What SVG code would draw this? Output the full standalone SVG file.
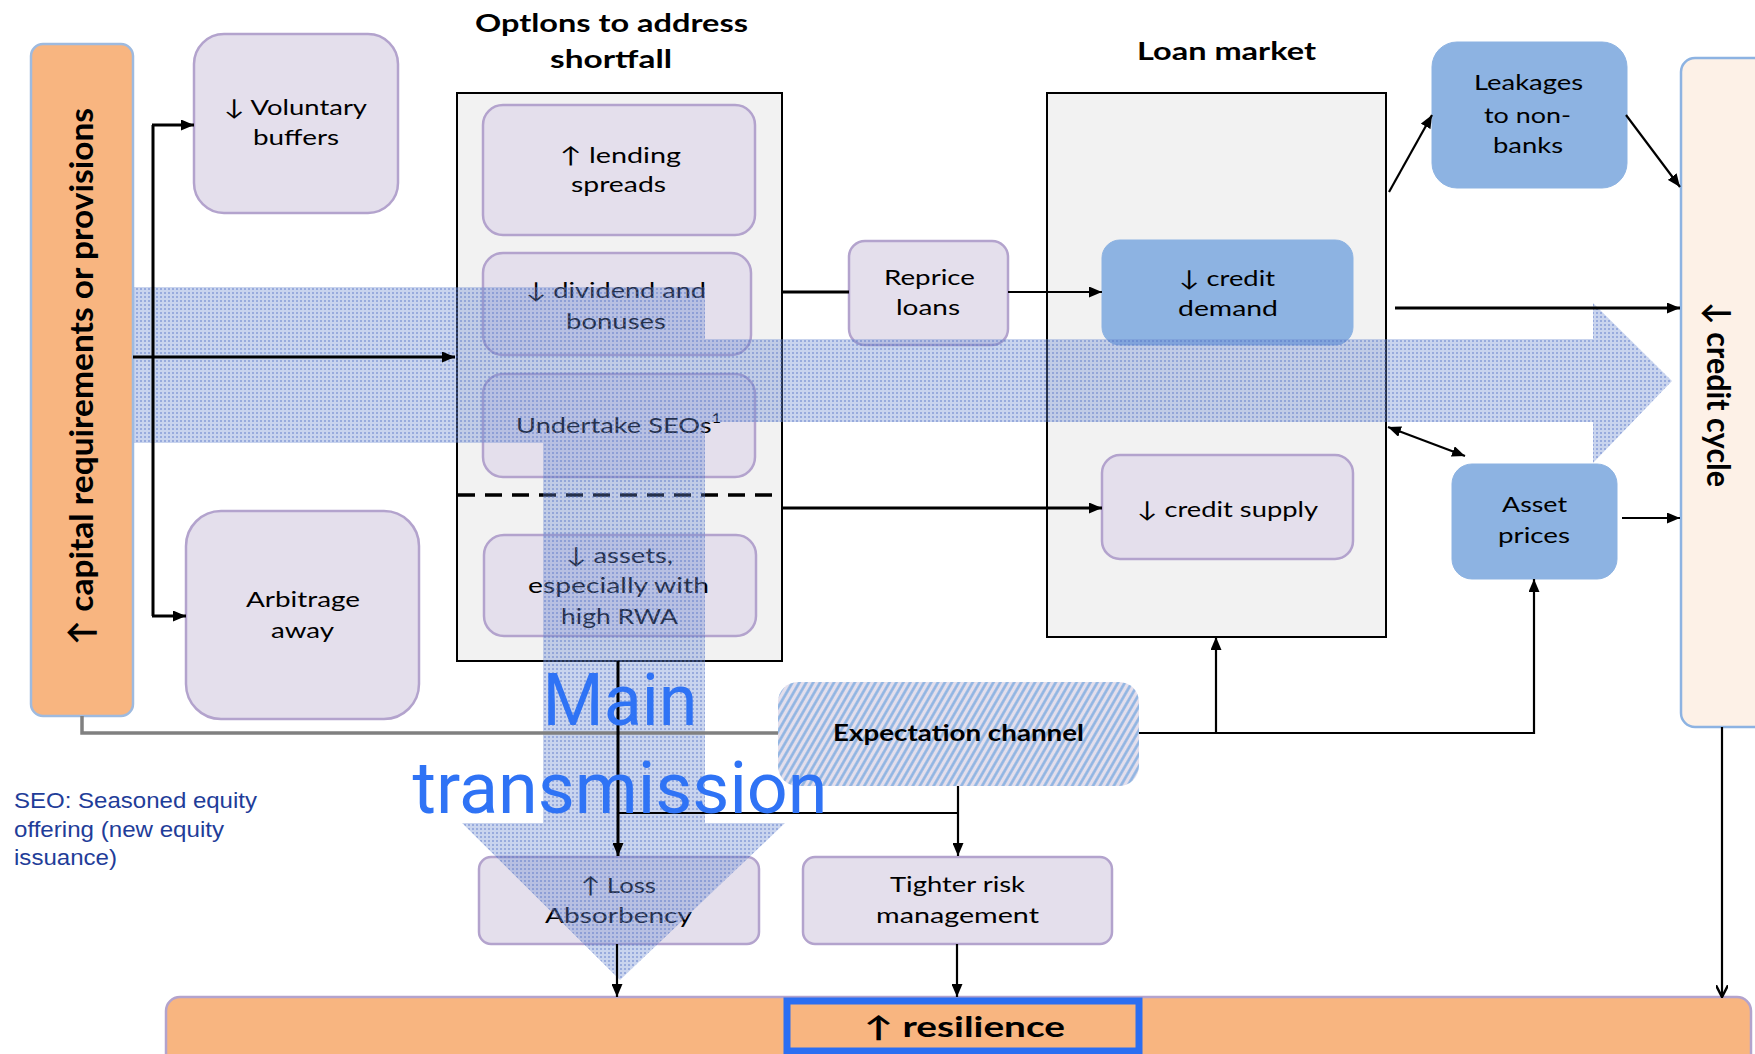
<svg xmlns="http://www.w3.org/2000/svg" width="1755" height="1054" viewBox="0 0 1755 1054">
<defs>
<style>
.t{font-family:Lato,"Open Sans","DejaVu Sans",sans-serif;font-size:22px;fill:#000}
.tb{font-family:Lato,"Open Sans","DejaVu Sans",sans-serif;font-weight:bold;fill:#000}
.pb{fill:#E4DFEC;stroke:#B3A3CD;stroke-width:2.5}
.bb{fill:#8DB3E2;stroke:#8DB3E2;stroke-width:1}
.ct{fill:#F2F2F2;stroke:#000;stroke-width:2}
.c{fill:none;stroke:#000;stroke-width:3}
.c2{fill:none;stroke:#000;stroke-width:2.2}
.a{marker-end:url(#ah)}
.note{font-family:"Liberation Sans",Arial,sans-serif;font-size:22px;fill:#1F3D99}
.main{font-family:Roboto,"Liberation Sans",sans-serif;font-size:73px;fill:#2F73F5;text-anchor:middle}
</style>
<marker id="ah" viewBox="0 0 10 10" refX="10" refY="5" markerWidth="13" markerHeight="11" markerUnits="userSpaceOnUse" orient="auto-start-reverse" preserveAspectRatio="none"><path d="M0,0 L10,5 L0,10 Z" fill="#000"/></marker>
<marker id="av" viewBox="0 0 10 10" refX="9" refY="5" markerWidth="13" markerHeight="12" markerUnits="userSpaceOnUse" orient="auto" preserveAspectRatio="none"><path d="M0,0 L9,5 L0,10" fill="none" stroke="#000" stroke-width="2"/></marker>
<pattern id="dots" width="4" height="4" patternUnits="userSpaceOnUse">
<rect width="4" height="4" fill="#6A88D0" fill-opacity="0.36"/>
<rect width="2" height="2" fill="#4D6FC4" fill-opacity="0.4"/>
</pattern>
<pattern id="hatch" width="6" height="6" patternUnits="userSpaceOnUse" patternTransform="rotate(30)">
<rect width="6" height="6" fill="#E4DFEC"/>
<line x1="1.5" y1="0" x2="1.5" y2="6" stroke="#8DB3E2" stroke-width="2.6"/>
</pattern>
</defs>
<rect width="1755" height="1054" fill="#fff"/>

<g id="capital-requirements">
<rect x="31" y="44" width="102" height="672" rx="12" fill="#F8B580" stroke="#9EBADF" stroke-width="2.5"/>
<text class="tb" font-size="33" transform="translate(93,645) rotate(-90)" textLength="537" lengthAdjust="spacingAndGlyphs">↑ capital requirements or provisions</text>
</g>

<g id="credit-cycle">
<rect x="1681" y="58" width="110" height="669" rx="14" fill="#FDF1E7" stroke="#8DB3E2" stroke-width="2.5"/>
<text class="tb" font-size="33" transform="translate(1707,302) rotate(90)" textLength="185" lengthAdjust="spacingAndGlyphs">↓ credit cycle</text>
</g>

<g id="resilience">
<rect x="166" y="997" width="1585" height="90" rx="14" fill="#F8B580" stroke="#B3A3CD" stroke-width="2.5"/>
<rect x="787" y="1001" width="352" height="50" fill="none" stroke="#2B6EF2" stroke-width="7"/>
<text class="tb" font-size="28" x="864" y="1037" textLength="201" lengthAdjust="spacingAndGlyphs">↑ resilience</text>
</g>

<g id="options-container">
<text class="tb" font-size="25" x="475" y="32" textLength="273" lengthAdjust="spacingAndGlyphs">Optlons to address</text>
<text class="tb" font-size="25" x="550" y="68" textLength="122" lengthAdjust="spacingAndGlyphs">shortfall</text>
<rect x="457" y="93" width="325" height="568" class="ct"/>
<line x1="458" y1="495" x2="781" y2="495" stroke="#000" stroke-width="3.5" stroke-dasharray="17 10"/>
</g>

<g id="loan-market">
<text class="tb" font-size="25" x="1137" y="60" textLength="179" lengthAdjust="spacingAndGlyphs">Loan market</text>
<rect x="1047" y="93" width="339" height="544" class="ct"/>
</g>

<g id="voluntary-buffers">
<rect x="194" y="34" width="204" height="179" rx="30" class="pb"/>
<text class="t" x="224" y="115" textLength="143" lengthAdjust="spacingAndGlyphs">↓ Voluntary</text>
<text class="t" x="253" y="145" textLength="86" lengthAdjust="spacingAndGlyphs">buffers</text>
</g>

<g id="arbitrage-away">
<rect x="186" y="511" width="233" height="208" rx="35" class="pb"/>
<text class="t" x="246" y="607" textLength="114" lengthAdjust="spacingAndGlyphs">Arbitrage</text>
<text class="t" x="271" y="638" textLength="63" lengthAdjust="spacingAndGlyphs">away</text>
</g>

<g id="lending-spreads">
<rect x="483" y="105" width="272" height="130" rx="20" class="pb"/>
<text class="t" x="560" y="163" textLength="121" lengthAdjust="spacingAndGlyphs">↑ lending</text>
<text class="t" x="571" y="192" textLength="95" lengthAdjust="spacingAndGlyphs">spreads</text>
</g>

<g id="dividend-bonuses">
<rect x="483" y="253" width="268" height="102" rx="20" class="pb"/>
<text class="t" x="526" y="298" textLength="180" lengthAdjust="spacingAndGlyphs">↓ dividend and</text>
<text class="t" x="566" y="329" textLength="100" lengthAdjust="spacingAndGlyphs">bonuses</text>
</g>

<g id="undertake-seos">
<rect x="483" y="374" width="272" height="103" rx="20" class="pb"/>
<text class="t" x="516" y="433" textLength="205" lengthAdjust="spacingAndGlyphs">Undertake SEOs<tspan font-size="13" dy="-10">1</tspan></text>
</g>

<g id="assets-rwa">
<rect x="484" y="535" width="272" height="101" rx="20" class="pb"/>
<text class="t" x="566" y="563" textLength="107" lengthAdjust="spacingAndGlyphs">↓ assets,</text>
<text class="t" x="528" y="593" textLength="181" lengthAdjust="spacingAndGlyphs">especially with</text>
<text class="t" x="561" y="624" textLength="117" lengthAdjust="spacingAndGlyphs">high RWA</text>
</g>

<g id="reprice-loans">
<rect x="849" y="241" width="159" height="104" rx="16" class="pb"/>
<text class="t" x="884" y="285" textLength="91" lengthAdjust="spacingAndGlyphs">Reprice</text>
<text class="t" x="896" y="315" textLength="64" lengthAdjust="spacingAndGlyphs">loans</text>
</g>

<g id="credit-demand">
<rect x="1102" y="240" width="251" height="105" rx="18" class="bb"/>
<text class="t" x="1179" y="286" textLength="96" lengthAdjust="spacingAndGlyphs">↓ credit</text>
<text class="t" x="1178" y="316" textLength="100" lengthAdjust="spacingAndGlyphs">demand</text>
</g>

<g id="credit-supply">
<rect x="1102" y="455" width="251" height="104" rx="18" class="pb"/>
<text class="t" x="1137" y="517" textLength="181" lengthAdjust="spacingAndGlyphs">↓ credit supply</text>
</g>

<g id="leakages">
<rect x="1432" y="42" width="195" height="146" rx="25" class="bb"/>
<text class="t" x="1474" y="90" textLength="109" lengthAdjust="spacingAndGlyphs">Leakages</text>
<text class="t" x="1484" y="123" textLength="87" lengthAdjust="spacingAndGlyphs">to non-</text>
<text class="t" x="1493" y="153" textLength="70" lengthAdjust="spacingAndGlyphs">banks</text>
</g>

<g id="asset-prices">
<rect x="1452" y="464" width="165" height="115" rx="20" class="bb"/>
<text class="t" x="1502" y="512" textLength="65" lengthAdjust="spacingAndGlyphs">Asset</text>
<text class="t" x="1498" y="543" textLength="72" lengthAdjust="spacingAndGlyphs">prices</text>
</g>

<g id="expectation-channel">
<rect x="778" y="682" width="361" height="104" rx="20" fill="url(#hatch)"/>
<text class="tb" font-size="22" x="833" y="741" textLength="251" lengthAdjust="spacingAndGlyphs">Expectation channel</text>
</g>

<g id="loss-absorbency">
<rect x="479" y="857" width="280" height="87" rx="12" class="pb"/>
<text class="t" x="581" y="893" textLength="75" lengthAdjust="spacingAndGlyphs">↑ Loss</text>
<text class="t" x="545" y="923" textLength="147" lengthAdjust="spacingAndGlyphs">Absorbency</text>
</g>

<g id="tighter-risk">
<rect x="803" y="857" width="309" height="87" rx="12" class="pb"/>
<text class="t" x="890" y="892" textLength="135" lengthAdjust="spacingAndGlyphs">Tighter risk</text>
<text class="t" x="876" y="923" textLength="163" lengthAdjust="spacingAndGlyphs">management</text>
</g>

<g id="main-transmission-arrow">
<path d="M134,287 H705 V339 H1593 V303 L1672,381 L1593,463 V422 H705 V823 H785 L620,980 L462,823 H543 V443 H134 Z" fill="url(#dots)"/>
</g>

<g id="connectors">
<path class="c a" d="M133,357 H455"/>
<path class="c" d="M153,125 V616"/>
<path class="c a" d="M152,125 H194"/>
<path class="c a" d="M152,616 H186"/>
<path class="c" d="M782,292 H849"/>
<path class="c2 a" d="M1008,292 H1102"/>
<path class="c a" d="M782,508 H1102"/>
<path class="c a" d="M1395,308 H1680"/>
<path class="c2 a" d="M1389,192 L1432,115"/>
<path class="c2 a" d="M1626,115 L1680,187"/>
<path class="c2 a" d="M1388,427 L1465,456" marker-start="url(#ah)"/>
<path class="c2 a" d="M1622,518 H1680"/>
<path d="M82,716 V733 H778" fill="none" stroke="#808080" stroke-width="3.5"/>
<path class="c2 a" d="M1139,733 H1534 V579"/>
<path class="c2 a" d="M1216,733 V637"/>
<path class="c2 a" d="M958,786 V856"/>
<path class="c2" d="M617,813 H958"/>
<path class="c a" d="M618,661 V856"/>
<path class="c2 a" d="M617,944 V997"/>
<path class="c2 a" d="M957,944 V997"/>
<path class="c2" d="M1722,727 V997" marker-end="url(#av)"/>
</g>

<g id="main-transmission-label">
<text class="main" x="620" y="725" textLength="155" lengthAdjust="spacingAndGlyphs">Main</text>
<text class="main" x="620" y="813" textLength="415" lengthAdjust="spacingAndGlyphs">transmission</text>
</g>

<g id="seo-note">
<text class="note" x="14" y="808" textLength="243" lengthAdjust="spacingAndGlyphs">SEO: Seasoned equity</text>
<text class="note" x="14" y="837" textLength="210" lengthAdjust="spacingAndGlyphs">offering (new equity</text>
<text class="note" x="14" y="865" textLength="103" lengthAdjust="spacingAndGlyphs">issuance)</text>
</g>
</svg>
